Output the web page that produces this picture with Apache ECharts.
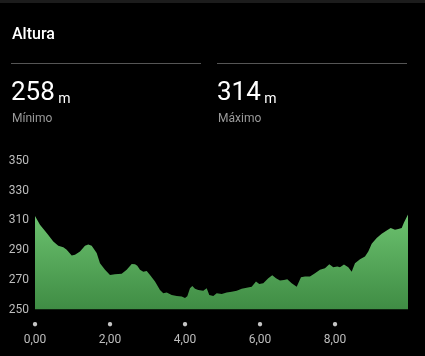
<!DOCTYPE html>
<html>
<head>
<meta charset="utf-8">
<script src="https://cdn.jsdelivr.net/npm/echarts@6/dist/echarts.min.js"></script>
<style>
html,body{margin:0;padding:0;background:#000;}
#c{width:425px;height:356px;}
</style>
</head>
<body>
<div id="c"></div>
<script>
const titleText = 'Altura';
const minValue = '258';
const maxValue = '314';
const unit = 'm';
const minLabel = 'Mínimo';
const maxLabel = 'Máximo';

const distanceKm = [
  0.000,0.133,0.312,0.488,0.621,0.755,0.845,0.979,1.067,1.200,
  1.333,1.421,1.512,1.645,1.733,1.867,2.000,2.133,2.312,2.445,
  2.579,2.667,2.728,2.800,2.888,2.979,3.067,3.200,3.333,3.421,
  3.512,3.645,3.779,3.912,4.000,4.061,4.133,4.195,4.267,4.355,
  4.488,4.579,4.648,4.755,4.845,4.888,4.979,5.112,5.245,5.379,
  5.512,5.645,5.779,5.893,5.981,6.088,6.221,6.328,6.427,6.533,
  6.640,6.728,6.845,6.979,7.093,7.200,7.333,7.467,7.600,7.733,
  7.848,7.955,8.061,8.133,8.240,8.355,8.445,8.533,8.667,8.800,
  8.888,8.979,9.112,9.245,9.379,9.485,9.600,9.688,9.779,9.840,
  9.947
];
const elevation = [
  313,307,301.5,295.8,293,292,290.2,286.4,286.8,289,
  293,293.8,293,288,281.2,276.7,273.3,273.8,274,276.7,
  280.7,280.5,279.4,276.7,275.5,276,273.3,268.8,263.2,261,
  261.4,259.8,259.1,258.7,257.8,259,264.3,265.9,263.9,263.2,
  262.7,264.3,259.8,259.1,261,261.4,260.5,261.4,262,262.7,
  263.9,264.7,265.4,268.8,267.2,267.7,271,273.1,271,269.5,
  269.9,270.4,267.7,265.4,271.8,272.2,272.2,274.4,276.7,277.8,
  280.5,278.5,278.9,278.5,280.3,278.5,275.5,281.2,283.9,285.7,
  289,294.3,298.1,301,303.2,304.9,303.7,304.2,304.9,308.6,
  314
];

const yTicks = [250,270,290,310,330,350];
const xTicks = [0,2,4,6,8];

const data = distanceKm.map((d,i)=>[d, elevation[i]]);
const fnt = 'Roboto, "Noto Sans", sans-serif';

const bigRich = {
  v:{color:'#fff', fontSize:26, fontWeight:'normal', fontFamily:fnt, verticalAlign:'bottom', lineHeight:28},
  u:{color:'#fff', fontSize:14, fontWeight:'normal', fontFamily:fnt, verticalAlign:'bottom', lineHeight:24}
};

const chart = echarts.init(document.getElementById('c'), null, {renderer:'canvas'});
chart.setOption({
  backgroundColor:'#000',
  animation:false,
  title:[
    {text:titleText, left:12, top:27, padding:0, textStyle:{color:'#fff', fontSize:16, fontWeight:500, fontFamily:fnt}},
    {text:'{v|'+minValue+'}{u| '+unit+'}', left:11, top:78, padding:0, textStyle:{fontWeight:'normal', rich:bigRich}},
    {text:'{v|'+maxValue+'}{u| '+unit+'}', left:217, top:78, padding:0, textStyle:{fontWeight:'normal', rich:bigRich}},
    {text:minLabel, left:12, top:113, padding:0, textStyle:{color:'#9a9a9a', fontSize:12, fontWeight:'normal', fontFamily:fnt}},
    {text:maxLabel, left:218, top:113, padding:0, textStyle:{color:'#9a9a9a', fontSize:12, fontWeight:'normal', fontFamily:fnt}}
  ],
  graphic:[
    {type:'rect', shape:{x:0,y:0,width:425,height:3}, style:{fill:'#1c1c1c'}},
    {type:'line', shape:{x1:11,y1:63.5,x2:201,y2:63.5}, style:{stroke:'#555', lineWidth:1}},
    {type:'line', shape:{x1:217,y1:63.5,x2:407,y2:63.5}, style:{stroke:'#555', lineWidth:1}}
  ],
  grid:{left:35, right:17, top:161, bottom:46.5, outerBoundsMode:'none', containLabel:false},
  xAxis:{
    type:'value', min:0, max:9.947, interval:2,
    axisLine:{show:false}, axisTick:{show:false}, splitLine:{show:false},
    axisLabel:{
      margin:10, showMaxLabel:false,
      formatter:function(v){
        if (xTicks.indexOf(Math.round(v*100)/100) < 0) return '';
        return '{d|●}\n{v|'+v.toFixed(2).replace('.', ',')+'}';
      },
      rich:{
        d:{color:'#c4c4c4', fontSize:10, lineHeight:10, align:'center'},
        v:{color:'#bdbdbd', fontSize:12, fontFamily:fnt, lineHeight:20, align:'center'}
      }
    }
  },
  yAxis:{
    type:'value', min:250, max:350, interval:20,
    axisLine:{show:false}, axisTick:{show:false}, splitLine:{show:false},
    axisLabel:{color:'#bdbdbd', fontSize:12, fontFamily:fnt, margin:6,
      formatter:function(v){ return yTicks.indexOf(v)>=0 ? String(v) : ''; }}
  },
  series:[{
    type:'line', data:data, symbol:'none', smooth:false,
    lineStyle:{width:0},
    areaStyle:{opacity:1, color:new echarts.graphic.LinearGradient(0,0,0,1,[
      {offset:0, color:'#6cc26f'},
      {offset:1, color:'#3f8c44'}
    ])}
  }]
});
</script>
</body>
</html>
